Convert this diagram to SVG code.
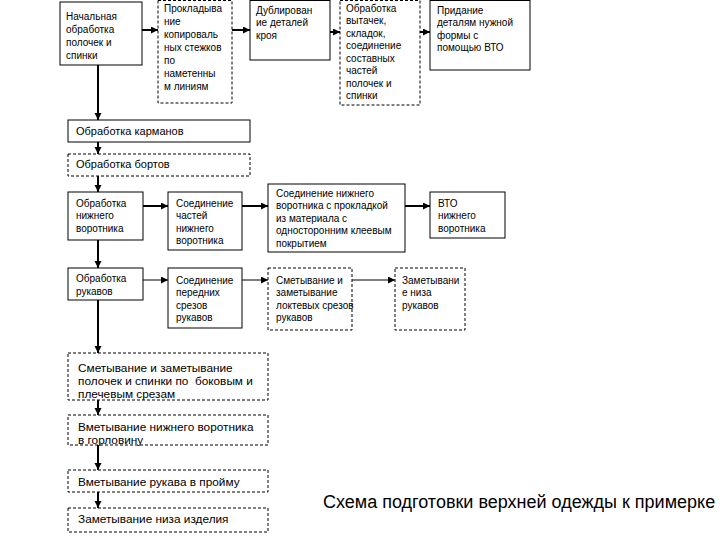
<svg xmlns="http://www.w3.org/2000/svg" width="720" height="540" viewBox="0 0 720 540">
<defs>
<marker id="ah" markerUnits="userSpaceOnUse" markerWidth="8" markerHeight="8" refX="7" refY="3.5" orient="auto"><path d="M0,0 L7,3.5 L0,7 Z" fill="#000"/></marker>
</defs>
<style>
.b{fill:#fff;stroke:#000;stroke-width:1}
.d{fill:#fff;stroke:#000;stroke-width:1;stroke-dasharray:3,2}
text{font-family:"Liberation Sans",Arial,sans-serif;font-size:10px;fill:#000}
.m{font-size:11px}
.l{font-size:11.8px}
.t{font-size:18px}
.c{stroke:#000;fill:none;marker-end:url(#ah)}
.k{stroke-width:2}
.n{stroke-width:1}
</style>
<rect width="720" height="540" fill="#fff"/>
<g id="connectors">
<line class="c k" x1="142" y1="30" x2="158" y2="30"/>
<line class="c k" x1="232" y1="30" x2="250" y2="30"/>
<line class="c k" x1="330" y1="32" x2="340" y2="32"/>
<line class="c k" x1="420" y1="32" x2="430" y2="32"/>
<line class="c k" x1="98" y1="65" x2="98" y2="120"/>
<line class="c k" x1="98" y1="142" x2="98" y2="154"/>
<line class="c k" x1="98" y1="176" x2="98" y2="192"/>
<line class="c k" x1="143" y1="206" x2="168" y2="206"/>
<line class="c k" x1="242" y1="206" x2="268" y2="206"/>
<line class="c k" x1="405" y1="206" x2="430" y2="206"/>
<line class="c k" x1="98" y1="240" x2="98" y2="268"/>
<line class="c n" x1="143" y1="280" x2="168" y2="280"/>
<line class="c n" x1="242" y1="280" x2="268" y2="280"/>
<line class="c n" x1="352" y1="280" x2="395" y2="280"/>
<line class="c k" x1="98" y1="300" x2="98" y2="353"/>
<line class="c k" x1="98" y1="400" x2="98" y2="415"/>
<line class="c k" x1="98" y1="445" x2="98" y2="470"/>
<line class="c k" x1="98" y1="492" x2="98" y2="508"/>
</g>
<g id="n1"><rect class="b" x="60" y="2" width="82" height="63"/>
<text x="66" y="19.5">Начальная</text><text x="66" y="32.5">обработка</text><text x="66" y="45.5">полочек и</text><text x="66" y="58.5">спинки</text></g>
<g id="n2"><rect class="d" x="158" y="0.5" width="74" height="102.5"/>
<text x="164" y="11.5">Прокладыва</text><text x="164" y="24.5">ние</text><text x="164" y="37.5">копироваль</text><text x="164" y="50.5">ных стежков</text><text x="164" y="63.5">по</text><text x="164" y="76.5">наметенны</text><text x="164" y="89.5">м линиям</text></g>
<g id="n3"><rect class="b" x="250" y="0.5" width="80" height="59.5"/>
<text x="256" y="13.5">Дублирован</text><text x="256" y="26">ие деталей</text><text x="256" y="38.5">кроя</text></g>
<g id="n4"><rect class="d" x="340" y="0.5" width="80" height="104.5"/>
<text x="346" y="11.5">Обработка</text><text x="346" y="24">вытачек,</text><text x="346" y="36.5">складок,</text><text x="346" y="49">соединение</text><text x="346" y="61.5">составных</text><text x="346" y="74">частей</text><text x="346" y="86.5">полочек и</text><text x="346" y="99">спинки</text></g>
<g id="n5"><rect class="b" x="430" y="0.5" width="100" height="69.5"/>
<text x="437" y="13.5">Придание</text><text x="437" y="26">деталям нужной</text><text x="437" y="38.5">формы с</text><text x="437" y="51">помощью ВТО</text></g>
<g id="n6"><rect class="b" x="68" y="120" width="182" height="22"/>
<text class="m" x="76" y="135">Обработка карманов</text></g>
<g id="n7"><rect class="d" x="68" y="154" width="182" height="22"/>
<text class="m" x="76" y="168">Обработка бортов</text></g>
<g id="n8"><rect class="b" x="68" y="192" width="75" height="48"/>
<text x="76" y="206.5">Обработка</text><text x="76" y="219">нижнего</text><text x="76" y="231.5">воротника</text></g>
<g id="n9"><rect class="b" x="168" y="192" width="74" height="58"/>
<text x="176" y="206.5">Соединение</text><text x="176" y="219">частей</text><text x="176" y="231.5">нижнего</text><text x="176" y="244">воротника</text></g>
<g id="n10"><rect class="b" x="268" y="184" width="137" height="68"/>
<text x="276" y="196.5">Соединение нижнего</text><text x="276" y="209">воротника с прокладкой</text><text x="276" y="221.5">из материала с</text><text x="276" y="234">односторонним клеевым</text><text x="276" y="246.5">покрытием</text></g>
<g id="n11"><rect class="b" x="430" y="192" width="75" height="46"/>
<text x="438" y="206.5">ВТО</text><text x="438" y="219">нижнего</text><text x="438" y="231.5">воротника</text></g>
<g id="n12"><rect class="b" x="68" y="268" width="75" height="32"/>
<text x="76" y="282">Обработка</text><text x="76" y="295">рукавов</text></g>
<g id="n13"><rect class="b" x="168" y="268" width="74" height="60"/>
<text x="176" y="283.5">Соединение</text><text x="176" y="296">передних</text><text x="176" y="308.5">срезов</text><text x="176" y="321">рукавов</text></g>
<g id="n14"><rect class="d" x="268" y="268" width="84" height="62"/>
<text x="276" y="283.5">Сметывание и</text><text x="276" y="296">заметывание</text><text x="276" y="308.5">локтевых срезов</text><text x="276" y="321">рукавов</text></g>
<g id="n15"><rect class="d" x="395" y="268" width="70" height="62"/>
<text x="402" y="283.5">Заметывани</text><text x="402" y="296">е низа</text><text x="402" y="308.5">рукавов</text></g>
<g id="n16"><rect class="d" x="68" y="353" width="200" height="47"/>
<text class="l" x="78" y="372">Сметывание и заметывание</text><text class="l" x="78" y="385">полочек и спинки по&#160; боковым и</text><text class="l" x="78" y="398">плечевым срезам</text></g>
<g id="n17"><rect class="d" x="68" y="415" width="200" height="30"/>
<text class="l" x="78" y="431">Вметывание нижнего воротника</text><text class="l" x="78" y="444">в горловину</text></g>
<g id="n18"><rect class="d" x="68" y="470" width="200" height="22"/>
<text class="l" x="78" y="486">Вметывание рукава в пройму</text></g>
<g id="n19"><rect class="d" x="68" y="508" width="200" height="24"/>
<text class="l" x="78" y="523">Заметывание низа изделия</text></g>
<text class="t" x="323" y="508">Схема подготовки верхней одежды к примерке</text>
</svg>
